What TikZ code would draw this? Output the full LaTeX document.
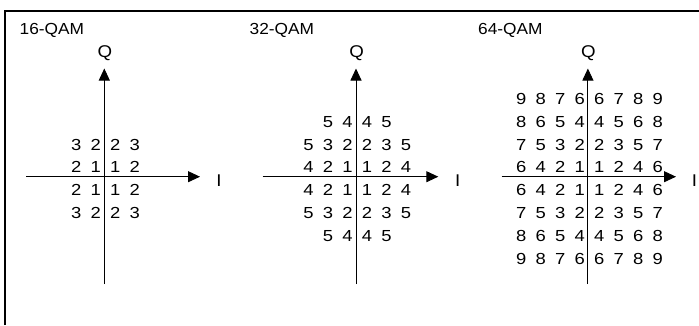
\documentclass[tikz,border=0pt]{standalone}
\usepackage{fontspec}
\setmainfont{Liberation Sans}
\newfontfamily\digitfont[FakeStretch=1.15]{Liberation Sans}
\newfontfamily\titlefont[FakeStretch=1.08]{Liberation Sans}
\newfontfamily\labelfont[FakeStretch=1.1]{Liberation Sans}
\usetikzlibrary{arrows.meta}
\begin{document}
\begin{tikzpicture}[x=1pt,y=-1pt,
  axis/.style={line width=0.9pt,-{Triangle[length=12pt,width=11pt]}},
  digit/.style={inner sep=0pt,anchor=base,font=\digitfont\fontsize{16}{16}\selectfont},
  axlabel/.style={inner sep=0pt,font=\labelfont\fontsize{17}{17}\selectfont},
  title/.style={inner sep=0pt,anchor=base west,font=\titlefont\fontsize{16}{16}\selectfont}]
\useasboundingbox (0,0) rectangle (699,325);
\draw[line width=2pt] (5,325) -- (5,10.5) -- (699,10.5);
% titles
\node[title] (t16) at (19.5,34.5) {16-QAM};
\node[title] (t32) at (249.5,34.5) {32-QAM};
\node[title] (t64) at (478,34.5) {64-QAM};
% ---------- 16-QAM
\coordinate (v16b) at (104.3,284);
\coordinate (v16t) at (104.3,68.5);
\coordinate (h16l) at (26,176.7);
\coordinate (h16r) at (200,176.7);
\draw[axis] (v16b) -- (v16t);
\draw[axis] (h16l) -- (h16r);
\node[axlabel] (q16) at (105,53) {Q};
\node[axlabel] (i16) at (219,180.5) {I};
\foreach \row [count=\r] in {{3,2,2,3},{2,1,1,2},{2,1,1,2},{3,2,2,3}}{
  \foreach \d [count=\c] in \row {
    \node[digit] (a-\r-\c) at ({105.6+(\c-2.5)*19.5},{178.5+(\r-2.5)*22.8+5.7}) {\d};
  }
}
% ---------- 32-QAM
\coordinate (v32b) at (356,284);
\coordinate (v32t) at (356,68.5);
\coordinate (h32l) at (262.7,176.7);
\coordinate (h32r) at (438.3,176.7);
\draw[axis] (v32b) -- (v32t);
\draw[axis] (h32l) -- (h32r);
\node[axlabel] (q32) at (356.7,53) {Q};
\node[axlabel] (i32) at (457.7,180.5) {I};
\foreach \row [count=\r] in {{{},5,4,4,5,{}},{5,3,2,2,3,5},{4,2,1,1,2,4},{4,2,1,1,2,4},{5,3,2,2,3,5},{{},5,4,4,5,{}}}{
  \foreach \d [count=\c] in \row {
    \node[digit] (b-\r-\c) at ({357.3+(\c-3.5)*19.5},{178.5+(\r-3.5)*22.8+5.7}) {\d};
  }
}
% ---------- 64-QAM
\coordinate (v64b) at (587.9,284);
\coordinate (v64t) at (587.9,68.5);
\coordinate (h64l) at (501.7,176.7);
\coordinate (h64r) at (676,176.7);
\draw[axis] (v64b) -- (v64t);
\draw[axis] (h64l) -- (h64r);
\node[axlabel] (q64) at (588.3,53) {Q};
\node[axlabel] (i64) at (694.5,180.5) {I};
\foreach \row [count=\r] in {{9,8,7,6,6,7,8,9},{8,6,5,4,4,5,6,8},{7,5,3,2,2,3,5,7},{6,4,2,1,1,2,4,6},{6,4,2,1,1,2,4,6},{7,5,3,2,2,3,5,7},{8,6,5,4,4,5,6,8},{9,8,7,6,6,7,8,9}}{
  \foreach \d [count=\c] in \row {
    \node[digit] (c-\r-\c) at ({589.4+(\c-4.5)*19.5},{178.5+(\r-4.5)*22.8+5.7}) {\d};
  }
}
\end{tikzpicture}
\end{document}
